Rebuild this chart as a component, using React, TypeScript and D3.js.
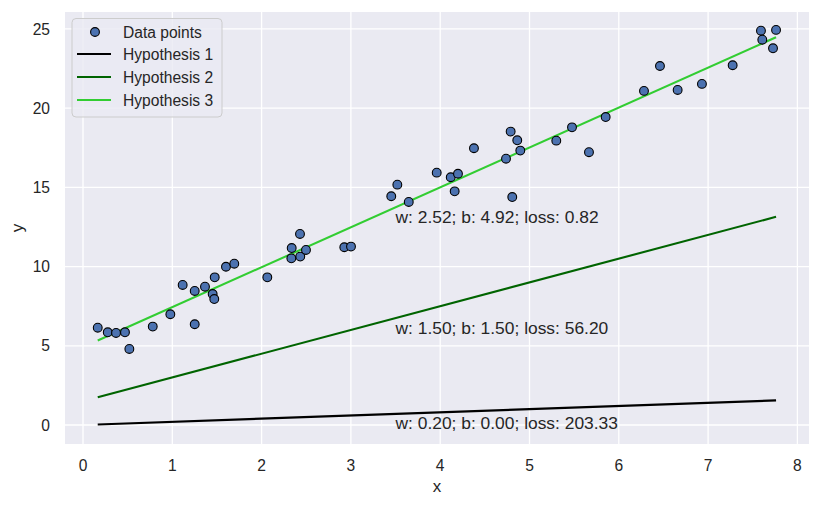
import * as d3 from "d3";

// Data points
const xs = [
    0.165, 0.277, 0.370, 0.470, 0.519, 0.781, 0.978, 1.116, 1.251, 1.251,
    1.366, 1.452, 1.470, 1.475, 1.601, 1.694, 2.064, 2.337, 2.333, 2.430,
    2.433, 2.497, 2.926, 3.001, 3.452, 3.520, 3.648, 3.961, 4.118, 4.162,
    4.199, 4.378, 4.737, 4.789, 4.807, 4.863, 4.897, 5.300, 5.476, 5.666,
    5.853, 6.282, 6.461, 6.659, 6.931, 7.275, 7.592, 7.607, 7.727, 7.761,
];
const ys = [
    6.14, 5.85, 5.81, 5.85, 4.80, 6.21, 6.99, 8.84, 8.46, 6.36,
    8.73, 8.27, 7.95, 9.32, 9.99, 10.18, 9.32, 11.17, 10.52, 12.06,
    10.63, 11.05, 11.22, 11.26, 14.44, 15.17, 14.08, 15.93, 15.64, 14.75,
    15.86, 17.47, 16.81, 18.52, 14.39, 17.97, 17.32, 17.95, 18.79, 17.22,
    19.44, 21.09, 22.66, 21.15, 21.53, 22.71, 24.89, 24.32, 23.78, 24.94,
];

// Hypotheses: weight, bias, loss
const hypoNames = [ "Hypothesis 1", "Hypothesis 2", "Hypothesis 3" ];
const hypoW = [ 0.2, 1.5, 2.52 ];
const hypoB = [ 0.0, 1.5, 4.92 ];
const hypoLoss = [ 203.33, 56.2, 0.82 ];
const hypoColors = [ "#000000", "#006400", "#32cd32" ];
const labelX = 3.5;

const xTicks = [ 0, 1, 2, 3, 4, 5, 6, 7, 8 ];
const yTicks = [ 0, 5, 10, 15, 20, 25 ];

const W = 820, H = 506;
const m = { top: 12, right: 11, bottom: 62, left: 65 };
const FONT = "'Liberation Sans', Arial, sans-serif";
const TXT = "#262626";

export default function App ()
{
    const x = d3.scaleLinear().domain( [ -0.2016, 8.13 ] ).range( [ m.left, W - m.right ] );
    const y = d3.scaleLinear().domain( [ -1.2, 26.07 ] ).range( [ H - m.bottom, m.top ] );

    const xMin = d3.min( xs ) as number;
    const xMax = d3.max( xs ) as number;
    const line = d3.line<number[]>().x( ( d ) => x( d[ 0 ] ) ).y( ( d ) => y( d[ 1 ] ) );

    const pw = W - m.left - m.right;
    const ph = H - m.top - m.bottom;

    return (
        <div style={ { position: "fixed", left: 0, top: 0 } }>
            <svg width={ W } height={ H } style={ { display: "block", fontFamily: FONT } }>
                <rect x={ 0 } y={ 0 } width={ W } height={ H } fill="#ffffff" />
                <rect x={ m.left } y={ m.top } width={ pw } height={ ph } fill="#eaeaf2" />

                {/* Grid */ }
                { xTicks.map( ( t ) => (
                    <line key={ "gx" + t } x1={ x( t ) } x2={ x( t ) } y1={ m.top } y2={ m.top + ph } stroke="#fff" strokeWidth={ 1.3 } />
                ) ) }
                { yTicks.map( ( t ) => (
                    <line key={ "gy" + t } x1={ m.left } x2={ m.left + pw } y1={ y( t ) } y2={ y( t ) } stroke="#fff" strokeWidth={ 1.3 } />
                ) ) }

                {/* Hypothesis lines */ }
                { hypoW.map( ( w, i ) => (
                    <path key={ "h" + i } fill="none" stroke={ hypoColors[ i ] } strokeWidth={ 2.1 }
                        d={ line( [ [ xMin, w * xMin + hypoB[ i ] ], [ xMax, w * xMax + hypoB[ i ] ] ] ) || "" } />
                ) ) }

                {/* Points */ }
                { xs.map( ( v, i ) => (
                    <circle key={ "p" + i } cx={ x( v ) } cy={ y( ys[ i ] ) } r={ 4.4 } fill="#4c72b0" stroke="#000" strokeWidth={ 1.1 } />
                ) ) }

                {/* Annotations */ }
                { hypoW.map( ( w, i ) => (
                    <text key={ "a" + i } x={ x( labelX ) } y={ y( w * labelX + hypoB[ i ] ) + 15.5 } fontSize={ 17.4 } fill={ TXT }>
                        { `w: ${ w.toFixed( 2 ) }; b: ${ hypoB[ i ].toFixed( 2 ) }; loss: ${ hypoLoss[ i ].toFixed( 2 ) }` }
                    </text>
                ) ) }

                {/* Tick labels */ }
                { xTicks.map( ( t ) => (
                    <text key={ "tx" + t } x={ x( t ) } y={ 471 } textAnchor="middle" fontSize={ 15.6 } fill={ TXT }>{ t }</text>
                ) ) }
                { yTicks.map( ( t ) => (
                    <text key={ "ty" + t } x={ 50 } y={ y( t ) + 5.6 } textAnchor="end" fontSize={ 15.6 } fill={ TXT }>{ t }</text>
                ) ) }

                {/* Axis labels */ }
                <text x={ m.left + pw / 2 } y={ 492 } textAnchor="middle" fontSize={ 17 } fill={ TXT }>x</text>
                <text transform={ `translate(23,${ m.top + ph / 2 }) rotate(-90)` } textAnchor="middle" fontSize={ 17 } fill={ TXT }>y</text>

                {/* Legend */ }
                <g>
                    <rect x={ 72 } y={ 18.5 } width={ 150 } height={ 98.5 } rx={ 4 } fill="#eaeaf2" fillOpacity={ 0.8 } stroke="#cccccc" strokeWidth={ 1 } />
                    <circle cx={ 95 } cy={ 32 } r={ 4.4 } fill="#4c72b0" stroke="#000" strokeWidth={ 1.1 } />
                    <text x={ 123 } y={ 37.5 } fontSize={ 15.6 } fill={ TXT }>Data points</text>
                    { hypoNames.map( ( n, i ) => (
                        <g key={ "l" + i }>
                            <line x1={ 77 } x2={ 111 } y1={ 54 + i * 23 } y2={ 54 + i * 23 } stroke={ hypoColors[ i ] } strokeWidth={ 2.1 } />
                            <text x={ 123 } y={ 59.5 + i * 23 } fontSize={ 15.6 } fill={ TXT }>{ n }</text>
                        </g>
                    ) ) }
                </g>
            </svg>
        </div>
    );
}
